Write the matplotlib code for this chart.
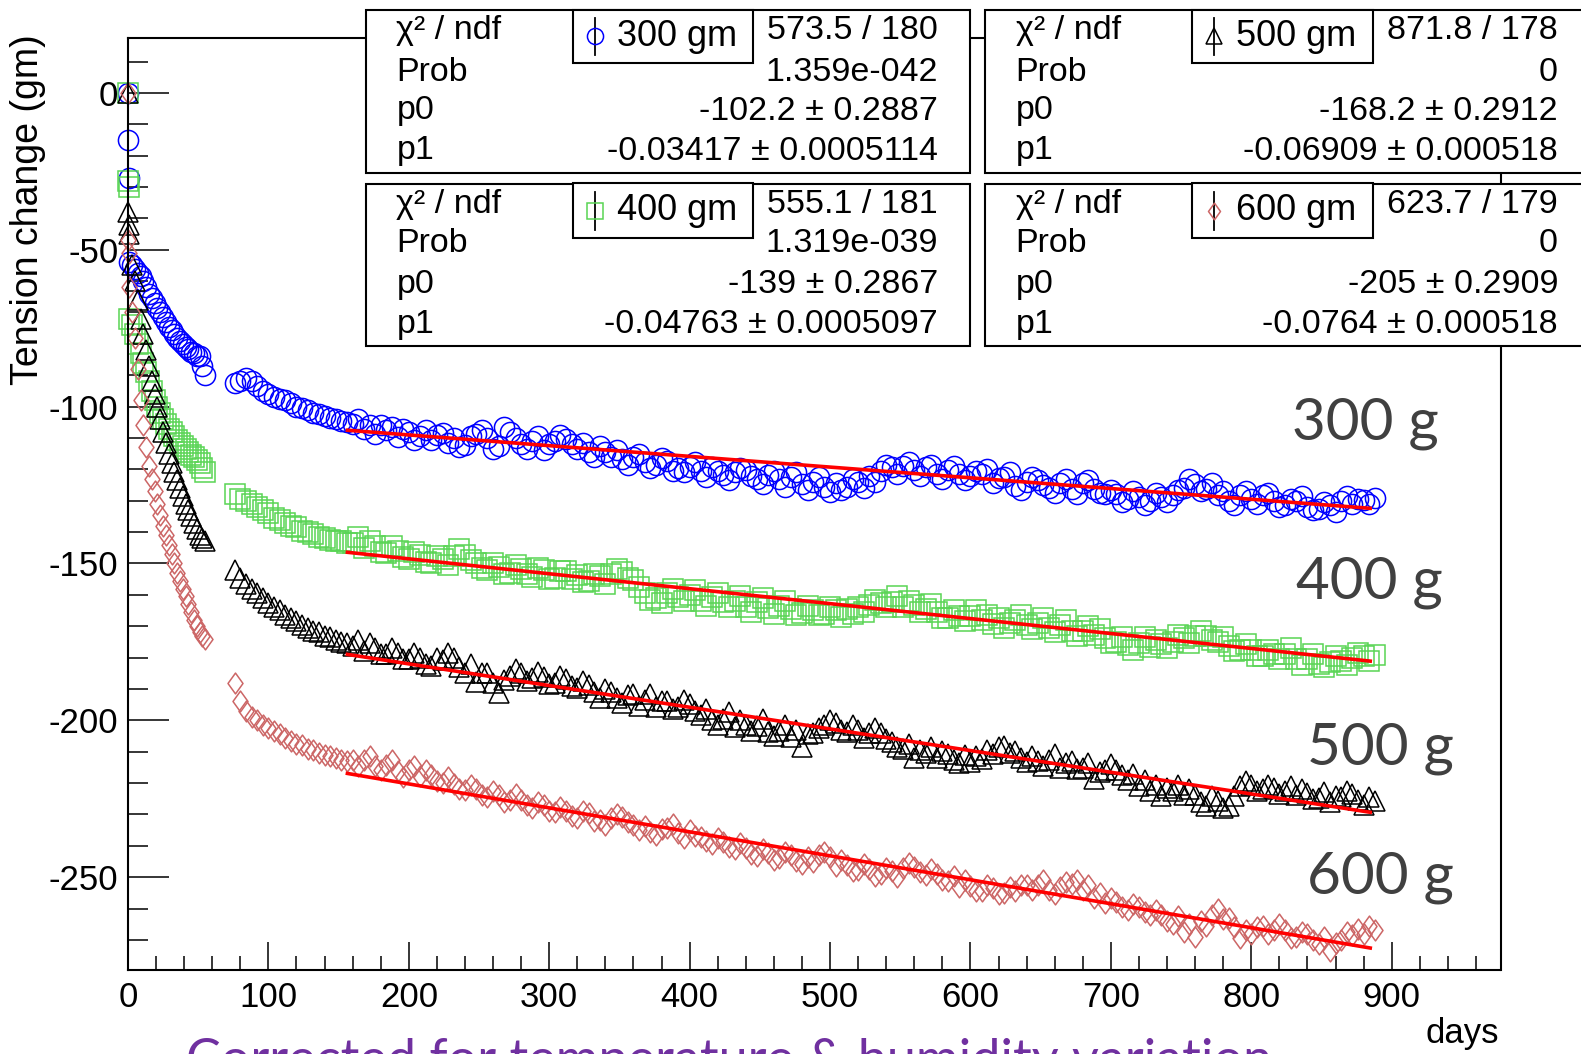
"""Wire tension change vs. time for four loads, ROOT-style fit boxes."""

import matplotlib

matplotlib.use("Agg")
import matplotlib.pyplot as plt
from matplotlib.lines import Line2D
from matplotlib.patches import Rectangle
from matplotlib.path import Path
from matplotlib.ticker import MultipleLocator

W, H = 1581, 1054

plt.rcParams["font.family"] = ["Liberation Sans", "DejaVu Sans"]
plt.rcParams["axes.unicode_minus"] = False

# measurement days (shared by all four wires)
days = [0, 0.3, 0.6, 1, 3, 5, 7, 9, 11, 13, 15, 17, 19, 21, 23, 25, 27, 29, 31, 33,
        35, 37, 39, 41, 43, 45, 47, 49, 51, 53, 55,
        76, 80, 84, 88, 92, 96, 100, 104, 108, 112, 116, 120, 124, 128, 132, 136, 140,
        144, 148, 152, 156,
        160, 164, 168, 172, 176, 180, 184, 188,
        192, 196, 200, 204, 208, 212, 216, 220,
        224, 228, 232, 236, 240, 244, 248, 252,
        256, 260, 264, 268, 272, 276, 280, 284,
        288, 292, 296, 300, 304, 308, 312, 316,
        320, 324, 328, 332, 336, 340, 344, 348,
        352, 356, 360, 364, 368, 372, 376, 380,
        384, 388, 392, 396, 400, 404, 408, 412,
        416, 420, 424, 428, 432, 436, 440, 444,
        448, 452, 456, 460, 464, 468, 472, 476,
        480, 484, 488, 492, 496, 500, 504, 508,
        512, 516, 520, 524, 528, 532, 536, 540,
        544, 548, 552, 556, 560, 564, 568, 572,
        576, 580, 584, 588, 592, 596, 600, 604,
        608, 612, 616, 620, 624, 628, 632, 636,
        640, 644, 648, 652, 656, 660, 664, 668,
        672, 676, 680, 684, 688, 692, 696, 700,
        704, 708, 712, 716, 720, 724, 728, 732,
        736, 740, 744, 748, 752, 756, 760, 764,
        768, 772, 776, 780, 784, 788, 792, 796,
        800, 804, 808, 812, 816, 820, 824, 828,
        832, 836, 840, 844, 848, 852, 856, 860,
        864, 868, 872, 876, 880, 884, 888]

tension_300 = [0, -15, -27, -54, -55, -56, -57.5, -58.5, -60, -62, -64, -65.5, -67, -68.5,
               -70, -71.5, -73, -74.5, -75.5, -77, -78, -79, -80, -81, -81.5, -82.5, -83,
               -84, -84, -87, -90,
               -92.5, -92, -91, -92, -93.5, -95, -96, -97, -97.5, -98, -99, -100, -100.5,
               -101, -102, -102.5, -103, -103.5, -104, -104.5, -105,
               -105.5, -104, -107, -106, -108.7, -105.8, -107.5, -106.5,
               -109.8, -107.2, -108, -110.8, -109.3, -107.5, -110.6, -109,
               -108.4, -111.5, -110.1, -113, -112.4, -109.5, -108.7, -107.5,
               -110, -113.5, -112.7, -106.5, -108, -110, -111.8, -113.5,
               -111, -109.5, -113.8, -112, -111.1, -109, -110.4, -112,
               -113.6, -111.5, -114.4, -116, -112.7, -114.5, -116, -113.8,
               -116.7, -118.5, -116, -115, -117.8, -119.5, -118.6, -116.5,
               -117.3, -120.5, -119.6, -121, -119.4, -117.8, -120.6, -122.5,
               -119.4, -120.5, -121.7, -123.5, -121, -119.5, -120.2, -122,
               -123, -124.8, -121.8, -120.5, -123, -125.5, -122.3, -121,
               -124.6, -126.5, -123.9, -122.5, -125.6, -127.2, -124.4, -126.5,
               -125.7, -123, -124, -126, -122.2, -124, -120.5, -118.5,
               -119.3, -121.5, -119, -117.8, -120.3, -122, -119.1, -118.5,
               -121.4, -123, -120.2, -119, -121.4, -123.5, -122.2, -120.5,
               -121.5, -119.8, -124.3, -122.8, -122.5, -121, -125.3, -126.5,
               -124.1, -122.5, -123.3, -125, -126.1, -127.5, -124.4, -123,
               -126.2, -128, -124.4, -123.5, -126.2, -127.5, -128, -126.5,
               -127.8, -130.5, -129.5, -127, -128.8, -131.5, -130.1, -127.5,
               -128.9, -130.5, -128.1, -126.5, -125.9, -123.2, -124.7, -127,
               -126.4, -124.5, -128.2, -126.8, -130, -131.5, -128.3, -127,
               -129.5, -131, -128.3, -127.5, -130.1, -132, -131.4, -129.5,
               -130.1, -128.5, -131.9, -133, -132.7, -130.5, -131.5, -133.5,
               -130.2, -128.5, -131, -129.5, -129.8, -131, -129]

tension_400 = [0, -28, -30, -72, -74, -77, -80, -83, -86, -89, -92, -95, -98, -100, -102,
               -104, -105.5, -107, -108, -109.5, -110.5, -111.5, -112.5, -113.5, -114.5,
               -115.5, -116, -117, -118, -119.5, -121,
               -128, -129.5, -130, -131, -132, -133, -134, -135.5, -136, -137, -138, -138.5,
               -139.5, -140, -140.5, -141.5, -142, -142.5, -143, -143, -143.5,
               -143.6, -141.5, -145, -143, -144.4, -146.5, -146.8, -144.5,
               -146.1, -148, -148.5, -146.5, -147.4, -149.5, -149.8, -147.5,
               -148.7, -150.5, -147.6, -145.5, -147.4, -149, -149.8, -151.5,
               -152.2, -150, -151.1, -153.5, -153, -150.5, -151.8, -153.5,
               -154.2, -151.5, -152.1, -155, -154.5, -152.5, -152.4, -155,
               -153.7, -156, -155.6, -153.5, -154, -156.5, -153.4, -151.8,
               -152.8, -154.5, -155.2, -157.5, -159.5, -161.5, -160.9, -162.5,
               -159.3, -158, -160.7, -162, -160, -158.5, -161.9, -163.5,
               -160.8, -159.5, -162.2, -164, -162.1, -160.5, -164, -165.5,
               -162.3, -161, -164.2, -166, -163.6, -162, -164.5, -166.5,
               -165.9, -163.5, -164.7, -166.5, -166.1, -164, -165, -167,
               -164.4, -166, -163.8, -165.5, -163.2, -161.5, -162.5, -164,
               -162.4, -160.5, -163.8, -162, -163.2, -165.5, -164.6, -163,
               -165.4, -167.5, -167.3, -165, -166.7, -168.5, -166.6, -165,
               -168, -166.5, -169.3, -167.5, -170.7, -169, -168.1, -166.5,
               -169.5, -171, -168.9, -167.5, -170.7, -172, -169.6, -168,
               -171.5, -173, -171.4, -169.8, -172.8, -171, -173.7, -175.5,
               -175, -173.5, -175.9, -177.5, -175.3, -173.5, -176.7, -174.5,
               -175.6, -177, -174.9, -172.8, -173.8, -175.5, -173.2, -171.5,
               -173.1, -174.5, -175, -173.5, -176.3, -178, -177.7, -175.8,
               -177.6, -179.5, -179.5, -177.5, -178.9, -180.5, -178.8, -177,
               -180.6, -182.5, -180.5, -179, -181.9, -183, -181.3, -179.5,
               -181.2, -182.5, -180, -178.5, -179.4, -181, -179.3]

tension_500 = [0, -38, -42, -45, -55, -60, -66, -72, -77, -82, -87, -92, -96, -100, -104,
               -108, -111.5, -115, -118, -121, -123.5, -126, -128.5, -131, -133, -135, -137,
               -139, -141, -142, -143,
               -152, -154.5, -156.5, -158, -159.5, -161, -162.5, -164, -165, -166.5, -167.5,
               -168.5, -169.5, -170.5, -171.5, -172, -173, -173.5, -174.5, -175, -175.5,
               -176.3, -174.5, -177.8, -175.5, -176.9, -179, -178.9, -177,
               -178.5, -180.5, -180.5, -178.5, -180.1, -182, -182.6, -180,
               -180.7, -178.5, -180.2, -183, -184.8, -182, -187.8, -185,
               -184.9, -188, -191.4, -187, -186, -183.5, -185, -187.5,
               -186.6, -184.5, -186.2, -188.5, -188.2, -186, -186.8, -189,
               -189.8, -187.5, -188.9, -191, -192.9, -190, -191, -193,
               -194.5, -192, -191.6, -195.5, -193.6, -191.5, -195.7, -194,
               -193.7, -196.5, -195.8, -193.5, -194.8, -197, -198.4, -196.5,
               -199.9, -201.5, -199.5, -197.5, -202, -200, -201.6, -203.5,
               -201.7, -199.5, -203.7, -205, -203.3, -201.5, -205.3, -203,
               -208.4, -204.5, -203.9, -202.5, -201.5, -199.8, -201, -203,
               -203.6, -201.5, -203.1, -205.5, -204.2, -202.5, -204.2, -206,
               -206.8, -208.5, -209.3, -207.5, -211.9, -209.5, -210.5, -208.5,
               -212, -209.8, -210.6, -212.5, -213.6, -211, -213.2, -211.5,
               -212.2, -209.5, -210.8, -208.5, -208.3, -210.5, -209.9, -212,
               -213.4, -211.5, -213, -214.5, -212.5, -210.8, -215.1, -213.5,
               -213.1, -215.5, -215.2, -213.5, -218.7, -216.5, -215.8, -214,
               -215.8, -217.5, -218.9, -217, -221, -219, -222.5, -220.5,
               -224.1, -221.5, -222.6, -220.5, -223.7, -221.8, -223.7, -226,
               -227.3, -224, -225.8, -228, -227.4, -224, -220.9, -219.5,
               -220.5, -222.5, -222, -220.5, -221.6, -223.5, -222.6, -221,
               -223.7, -222, -223.2, -225, -224.8, -223, -225.9, -224,
               -224.4, -222.5, -223.5, -225.5, -227, -224.5, -225.6]

tension_600 = [0, -47, -51, -62, -70, -78, -88, -98, -106, -113, -119, -123, -127, -131,
               -134.5, -138, -141, -144, -147, -150, -153, -155.5, -158, -160.5, -163, -165.5,
               -168, -170, -172, -173, -174,
               -188, -194, -197, -199, -200, -201.5, -202.5, -203.5, -204.5, -205.5, -206.5,
               -207.5, -208, -209, -209.5, -210.5, -211, -211.5, -212, -212.5, -213,
               -212.7, -214.5, -212.8, -211.5, -214.5, -216, -214.1, -212.8,
               -216.2, -218, -215.8, -214.5, -217.9, -216, -217.5, -219.5,
               -220.1, -218, -220.2, -222, -222.3, -220.5, -222, -223.8,
               -224.6, -222.5, -223.7, -226, -225.3, -223.5, -225.4, -227,
               -228, -226, -227.1, -229, -229.2, -227.5, -228.8, -230.5,
               -231, -229, -229.6, -232, -231.7, -233.5, -231.3, -229.8,
               -230.9, -232.5, -233.5, -235, -233.6, -235.5, -236.7, -234.5,
               -234.3, -233, -236, -237.5, -235.1, -236.8, -237.2, -238.5,
               -239.3, -237.5, -238.9, -240.5, -241, -239, -240.6, -242.5,
               -243.2, -241, -242.3, -244.5, -244, -242, -243.1, -245,
               -245.7, -243.5, -245.3, -243, -241.9, -243.5, -246.5, -244.5,
               -246.1, -248, -247.7, -245.8, -247.3, -249.5, -249, -247,
               -248.1, -250, -247.2, -245.5, -246.8, -248.5, -249.4, -247.5,
               -249, -251, -251.1, -249.5, -253.2, -251, -252.8, -254.5,
               -254.5, -252.5, -253.6, -255.5, -255.2, -253, -254.3, -252.5,
               -252.4, -254, -252.5, -251, -254.1, -255.5, -253.2, -251.5,
               -252.3, -250.8, -254, -252.5, -256.6, -255, -258.2, -256.5,
               -257.8, -259.5, -260.4, -258.5, -259.5, -261, -262.1, -260.5,
               -262.2, -264, -264.8, -262.5, -267.5, -265, -269.1, -264,
               -265.7, -262, -260.3, -263.5, -262.9, -266, -269.5, -267,
               -268.1, -266, -265.7, -268, -266.8, -265, -267, -269.5,
               -269.1, -267.5, -268.2, -270, -271.3, -269, -273.4, -271,
               -270, -267.5, -268.6, -266.5, -268.2, -265.5, -266.8]

# linear fit results (pol1) shown in the stat boxes
loads = ["300 gm", "400 gm", "500 gm", "600 gm"]
fit_p0 = [-102.2, -139, -168.2, -205]
fit_p1 = [-0.03417, -0.04763, -0.06909, -0.0764]
fit_range = (155, 886)
chi2_text = ["573.5 / 180", "555.1 / 181", "871.8 / 178", "623.7 / 179"]
prob_text = ["1.359e-042", "1.319e-039", "0", "0"]
p0_text = ["-102.2 ± 0.2887", "-139 ± 0.2867", "-168.2 ± 0.2912", "-205 ± 0.2909"]
p1_text = ["-0.03417 ± 0.0005114", "-0.04763 ± 0.0005097",
           "-0.06909 ± 0.000518", "-0.0764 ± 0.000518"]
side_labels = ["300 g", "400 g", "500 g", "600 g"]

diamond = Path([(0, 1), (0.72, 0), (0, -1), (-0.72, 0), (0, 1)],
               [Path.MOVETO, Path.LINETO, Path.LINETO, Path.LINETO, Path.CLOSEPOLY])
styles = [
    dict(marker="o", color="#0000ff", ms=14.5),
    dict(marker="s", color="#59d454", ms=14),
    dict(marker="^", color="#000000", ms=14),
    dict(marker=diamond, color="#cc6666", ms=15),
]


def fx(x):
    return x / W


def fy(y):
    return 1 - y / H


fig = plt.figure(figsize=(W / 100, H / 100), dpi=100)
ax = fig.add_axes([fx(128), fy(970), fx(1500.5) - fx(128), fy(38.3) - fy(970)])

series = [tension_300, tension_400, tension_500, tension_600]
for vals, st in zip(series, styles):
    ax.plot(days, vals, ls="none", marker=st["marker"], ms=st["ms"], mfc="none",
            mec=st["color"], mew=1.1, clip_on=False)

for p0, p1 in zip(fit_p0, fit_p1):
    xs = list(fit_range)
    ax.plot(xs, [p0 + p1 * x for x in xs], color="red", lw=2.6, solid_capstyle="butt")

ax.set_xlim(0, 977.5)
ax.set_ylim(-279.6, 17.4)
ax.xaxis.set_major_locator(MultipleLocator(100))
ax.xaxis.set_minor_locator(MultipleLocator(20))
ax.yaxis.set_major_locator(MultipleLocator(50))
ax.yaxis.set_minor_locator(MultipleLocator(10))
ax.tick_params(axis="x", which="major", direction="in", length=20, width=1.1,
               labelsize=25, pad=8)
ax.tick_params(axis="x", which="minor", direction="in", length=10, width=1.1)
ax.tick_params(axis="y", which="major", direction="in", length=29.5, width=1.1,
               labelsize=25, pad=7)
ax.tick_params(axis="y", which="minor", direction="in", length=14.7, width=1.1)
for sp in ax.spines.values():
    sp.set_linewidth(1.5)

fig.text(fx(28.5), fy(34), "Tension change (gm)", rotation=90, ha="center", va="top",
         fontsize=27)
fig.text(fx(1499), fy(1033), "days", ha="right", va="center", fontsize=25)

label_x = [829, 832, 840, 840]
label_y = [-105.4, -156.2, -208.9, -250]
for lab, x, y in zip(side_labels, label_x, label_y):
    ax.text(x, y, lab, family=["Lato", "DejaVu Sans"], fontsize=42, color="#404040",
            ha="left", va="center")

fig.text(fx(186), fy(1076), "Corrected for temperature & humidity variation",
         family=["Lato", "DejaVu Sans"], fontsize=37.5, color="#7030a0",
         ha="left", va="baseline")


def stat_box(i, x0, x1, y0, y1, leg_x0, leg_x1, leg_y1, lab_x, val_x, rows):
    fig.add_artist(Rectangle((fx(x0), fy(y1)), fx(x1) - fx(x0), fy(y0) - fy(y1),
                             transform=fig.transFigure, facecolor="white",
                             edgecolor="black", lw=1.5, zorder=5))
    fig.add_artist(Rectangle((fx(leg_x0), fy(leg_y1)), fx(leg_x1) - fx(leg_x0),
                             fy(y0) - fy(leg_y1), transform=fig.transFigure,
                             facecolor="white", edgecolor="black", lw=1.5, zorder=6))
    labels = ["χ² / ndf", "Prob", "p0", "p1"]
    values = [chi2_text[i], prob_text[i], p0_text[i], p1_text[i]]
    for lab, val, ry in zip(labels, values, rows):
        fig.text(fx(lab_x), fy(ry), lab, ha="left", va="center", fontsize=24.5, zorder=7)
        fig.text(fx(val_x), fy(ry), val, ha="right", va="center", fontsize=24.5, zorder=7)
    # legend entry: marker with error bar
    mx, my = leg_x0 + 22, (y0 + leg_y1) / 2
    fig.add_artist(Line2D([fx(mx), fx(mx)], [fy(y0 + 8), fy(leg_y1 - 8)],
                          transform=fig.transFigure, color="black", lw=1.3, zorder=7))
    st = styles[i]
    fig.add_artist(Line2D([fx(mx)], [fy(my)], transform=fig.transFigure, ls="none",
                          marker=st["marker"], ms=st["ms"] * 0.8, mfc="none",
                          mec=st["color"], mew=1.1, zorder=8))
    fig.text(fx(leg_x0 + 44), fy(my), loads[i], ha="left", va="center", fontsize=26,
             zorder=7)


rows_top = [30.5, 72.5, 111, 151]
rows_bot = [204.5, 244, 284.5, 324.5]
stat_box(0, 366, 970, 10, 173.5, 573, 753, 62.5, 396.5, 938, rows_top)
stat_box(1, 366, 970, 183.5, 346, 573, 753, 238, 396.5, 938, rows_bot)
stat_box(2, 985, 1620, 10, 173.5, 1192, 1373, 62.5, 1015.5, 1558, rows_top)
stat_box(3, 985, 1620, 183.5, 346, 1192, 1373, 238, 1015.5, 1558, rows_bot)

fig.savefig("out.png", dpi=100)
